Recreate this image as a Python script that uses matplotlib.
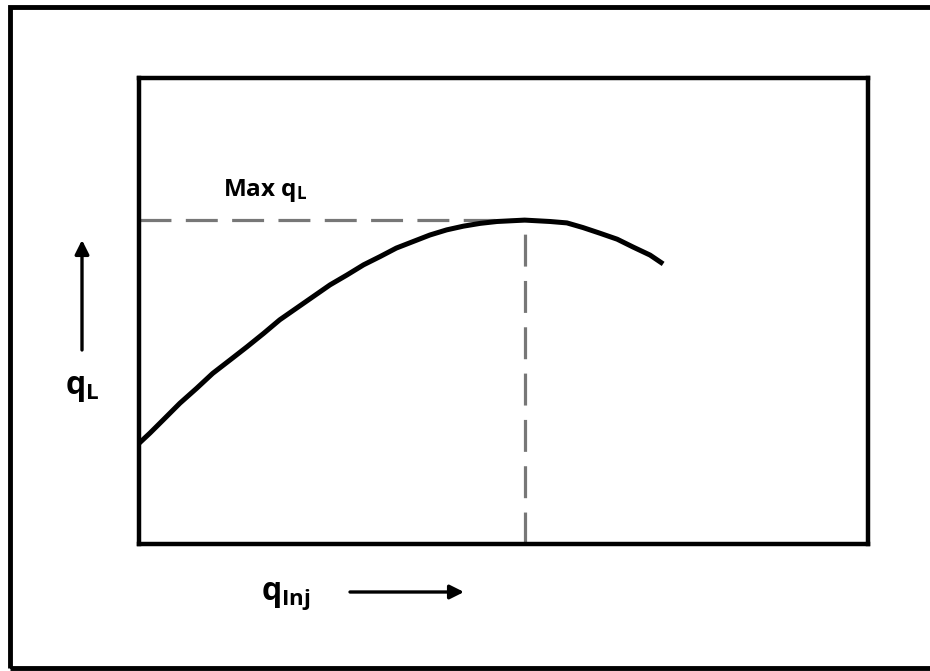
import matplotlib

matplotlib.use("Agg")
import matplotlib.pyplot as plt
from matplotlib.patches import FancyArrowPatch, Rectangle

plt.rcParams["font.family"] = ["Open Sans", "DejaVu Sans"]
plt.rcParams["mathtext.fontset"] = "custom"
plt.rcParams["mathtext.rm"] = "Open Sans:bold"
plt.rcParams["mathtext.bf"] = "Open Sans:bold"
plt.rcParams["mathtext.it"] = "Open Sans:bold"

# performance curve (axes run 0..10 both ways)
q_inj = [0.0, 0.15, 0.33, 0.56, 0.79, 1.01, 1.25, 1.48, 1.71, 1.93, 2.16,
         2.39, 2.62, 2.85, 3.08, 3.31, 3.53, 3.76, 3.99, 4.22, 4.45, 4.68,
         4.91, 5.29, 5.64, 5.87, 6.09, 6.32, 6.56, 6.78, 7.01, 7.19]
q_l = [2.16, 2.38, 2.66, 3.02, 3.34, 3.66, 3.95, 4.23, 4.52, 4.81, 5.06,
       5.31, 5.56, 5.77, 5.99, 6.17, 6.35, 6.49, 6.63, 6.74, 6.82, 6.88,
       6.92, 6.95, 6.92, 6.89, 6.79, 6.67, 6.54, 6.37, 6.20, 6.01]

x_max = 5.29
y_max = 6.95

fig = plt.figure(figsize=(9.3, 6.71), dpi=100)
ax = fig.add_axes([0.1495, 0.1893, 0.7838, 0.6945])

ax.plot([0, x_max], [y_max, y_max], color="#777777", lw=2.3,
        dashes=(10, 4.5), zorder=1)
ax.plot([x_max, x_max], [0, y_max], color="#777777", lw=2.3,
        dashes=(10, 4.5), zorder=1)
ax.plot(q_inj, q_l, color="black", lw=3.6, solid_capstyle="butt",
        solid_joinstyle="round", zorder=2)

ax.set_xlim(0, 10)
ax.set_ylim(0, 10)
ax.set_xticks([])
ax.set_yticks([])
for sp in ax.spines.values():
    sp.set_linewidth(3.2)

ax.text(1.15, 7.3, r"Max q$_{\mathrm{L}}$", fontsize=17.5, fontweight="bold",
        ha="left", va="bottom")

# axis captions and arrows, placed in figure pixels
fig.text(82 / 930, 1 - 388 / 671, r"q$_{\mathrm{L}}$", fontsize=23,
         fontweight="bold", ha="center", va="center")
fig.text(286 / 930, 1 - 596 / 671, r"q$_{\mathrm{Inj}}$", fontsize=23,
         fontweight="bold", ha="center", va="center")
arrow = dict(arrowstyle="-|>,head_length=0.7,head_width=0.35", color="black",
             lw=2.4, shrinkA=0, shrinkB=0, mutation_scale=12,
             transform=fig.transFigure)
fig.add_artist(FancyArrowPatch((82 / 930, 1 - 350 / 671),
                               (82 / 930, 1 - 240 / 671), **arrow))
fig.add_artist(FancyArrowPatch((350 / 930, 1 - 592 / 671),
                               (464 / 930, 1 - 592 / 671), **arrow))

# outer frame of the picture
fig.add_artist(Rectangle((10 / 930, 3 / 671), 1.0, 1 - 10 / 671,
                         transform=fig.transFigure, fill=False,
                         edgecolor="black", lw=3.5))

fig.savefig("out.png", dpi=100)
